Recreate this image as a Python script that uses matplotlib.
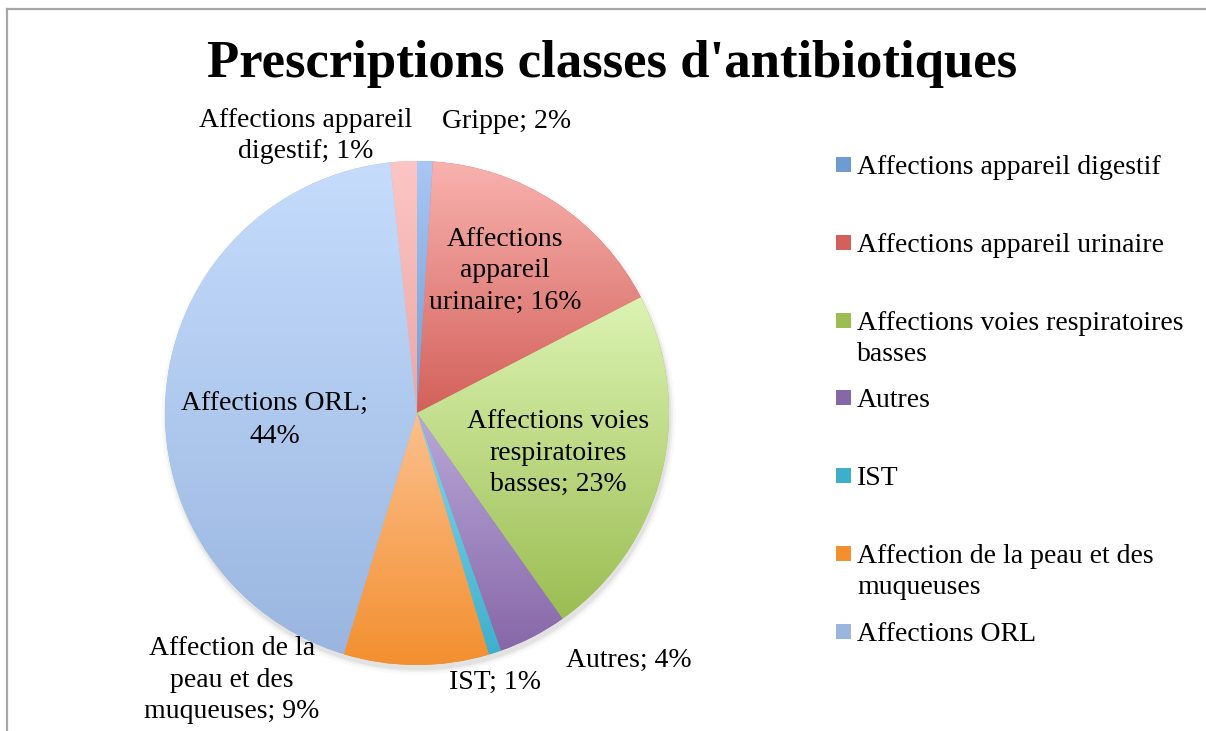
import matplotlib
matplotlib.use('Agg')
import numpy as np
import matplotlib.pyplot as plt
from matplotlib.colors import LinearSegmentedColormap
from matplotlib.lines import Line2D
from matplotlib.patches import Rectangle

W, H = 1206, 731

# data (clockwise from 12 o'clock)
categories = ["Affections appareil digestif", "Affections appareil urinaire",
              "Affections voies respiratoires basses", "Autres", "IST",
              "Affection de la peau et des muqueuses", "Affections ORL", "Grippe"]
shares = [1.0, 16.4, 22.8, 4.4, 0.8, 9.3, 43.6, 1.7]

# label text as shown in the chart (wrapped)
label_names = ["Affections appareil\ndigestif", "Affections\nappareil\nurinaire",
               "Affections voies\nrespiratoires\nbasses", "Autres", "IST",
               "Affection de la\npeau et des\nmuqueuses", "Affections ORL;\n", "Grippe"]
legend_names = ["Affections appareil digestif", "Affections appareil urinaire",
                "Affections voies respiratoires\nbasses", "Autres", "IST",
                "Affection de la peau et des\nmuqueuses", "Affections ORL"]

# gradient colours (top, bottom) per slice
grads = [("#a9c7f4", "#6f9bd3"), ("#f8b2ae", "#d3605a"), ("#dcf3b2", "#9bbd52"),
         ("#b9a8d8", "#8767a8"), ("#86d8ec", "#3eafcb"), ("#fcc08e", "#f38f2f"),
         ("#c5dcfc", "#9ab6e0"), ("#fcc6c4", "#eca6a4")]

# label anchors in pie units (radius = 1)
label_pos = [(-0.44, 1.10), (0.35, 0.565), (0.56, -0.16), (0.84, -0.98),
             (0.31, -1.07), (-0.735, -1.06), (-0.565, -0.03), (0.355, 1.155)]


def px(x, y):
    return x / W, 1 - y / H


plt.rcParams['font.family'] = ['Liberation Serif', 'DejaVu Serif']
FS = 20
LS = 1.34

fig = plt.figure(figsize=(W / 100, H / 100), dpi=100)
fig.patch.set_facecolor('white')

# frame (top and left edges visible)
fig.add_artist(Line2D([7 / W, 1], [1 - 8.5 / H] * 2, color='#a6a6a6', lw=1.6))
fig.add_artist(Line2D([7 / W] * 2, [0, 1 - 8.5 / H], color='#a6a6a6', lw=1.6))

fig.text(612 / W, 1 - 77 / H, "Prescriptions classes d'antibiotiques",
         ha='center', va='baseline', fontsize=38, fontweight='bold')

R = 252
cx, cy = 417, 413
S = 620
ax = fig.add_axes([(cx - S / 2) / W, (H - cy - S / 2) / H, S / W, S / H])
lim = S / 2 / R

# soft shadow, mostly below the pie
for k, a in [(1.02, 0.025), (1.01, 0.04), (1.003, 0.05)]:
    ax.add_patch(plt.Circle((0.006, -0.018), k, color='black', alpha=a, lw=0, zorder=0))

wedges, _ = ax.pie(shares, startangle=90, counterclock=False, radius=1,
                   colors=[g[1] for g in grads], wedgeprops=dict(linewidth=0))

grad = np.linspace(0, 1, 256).reshape(-1, 1)
for w, (c0, c1) in zip(wedges, grads):
    bb = w.get_path().get_extents()
    cmap = LinearSegmentedColormap.from_list('g', [c0, c1])
    im = ax.imshow(grad, cmap=cmap, extent=[bb.x0, bb.x1, bb.y0, bb.y1],
                   origin='upper', aspect='auto', zorder=2)
    im.set_clip_path(w)

ax.set_xlim(-lim, lim)
ax.set_ylim(-lim, lim)
ax.set_aspect('equal')
ax.axis('off')

for name, v, (lx, ly) in zip(label_names, shares, label_pos):
    if name.endswith('\n'):
        txt = f"{name}{v:.0f}%"
    else:
        txt = f"{name}; {v:.0f}%"
    ax.text(lx, ly, txt, ha='center', va='center', fontsize=FS,
            linespacing=LS, zorder=5, clip_on=False)

# legend
base0 = 175
for i, (name, (c0, c1)) in enumerate(zip(legend_names, grads)):
    b = base0 + i * 77.8
    fx, fy = px(836, b - 3)
    fig.add_artist(Rectangle((fx, fy), 15 / W, 15 / H, transform=fig.transFigure,
                             facecolor=c1, edgecolor='none'))
    tx, ty = px(857, b - 20)
    fig.text(tx, ty, name, ha='left', va='top', fontsize=FS, linespacing=LS)

fig.savefig('out.png', dpi=100)
